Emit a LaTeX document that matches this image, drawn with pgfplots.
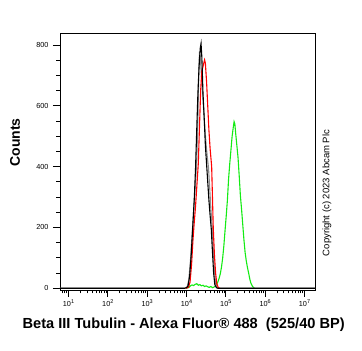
\documentclass[border=0pt]{standalone}
\usepackage{pgfplots}
\pgfplotsset{compat=1.18}
\usepackage{fontspec}
\setmainfont{Liberation Sans}
\definecolor{flgreen}{RGB}{20,235,20}
\definecolor{flgray}{RGB}{140,140,140}
\newcommand{\dec}[1]{10\raisebox{0.75ex}{\fontsize{5.5}{5.5}\selectfont #1}}
\begin{document}
\begin{tikzpicture}
\useasboundingbox (-60pt,-61pt) rectangle (302pt,290pt);
\begin{axis}[
  at={(0,0)}, anchor=south west,
  scale only axis, width=255pt, height=256.7pt,
  xmin=0.784, xmax=7.267, ymin=-5.6, ymax=838.5,
  axis line style={line width=0.9pt},
  tick align=outside,
  xtick pos=bottom, ytick pos=left,
  xtick={1,2,3,4,5,6,7},
  xticklabels={\dec{1},\dec{2},\dec{3},\dec{4},\dec{5},\dec{6},\dec{7}},
  minor xtick={0.845,0.903,0.954,
    1.301,1.477,1.602,1.699,1.778,1.845,1.903,1.954,
    2.301,2.477,2.602,2.699,2.778,2.845,2.903,2.954,
    3.301,3.477,3.602,3.699,3.778,3.845,3.903,3.954,
    4.301,4.477,4.602,4.699,4.778,4.845,4.903,4.954,
    5.301,5.477,5.602,5.699,5.778,5.845,5.903,5.954,
    6.301,6.477,6.602,6.699,6.778,6.845,6.903,6.954},
  ytick={0,200,400,600,800},
  minor ytick={50,100,150,250,300,350,450,500,550,650,700,750},
  major tick length=7pt, minor tick length=3.5pt,
  every tick/.style={line width=0.9pt, black},
  /pgf/number format/assume math mode=true,
  ticklabel style={font=\fontsize{7.3}{8}\selectfont},
  yticklabel style={xshift=-1pt},
  xticklabel style={yshift=1pt},
  ylabel={Counts},
  ylabel style={at={(axis description cs:-0.176,0.575)}, anchor=center, rotate=0, font=\fontsize{14}{15}\selectfont\bfseries},
  xlabel={Beta III Tubulin - Alexa Fluor® 488\ \ (525/40 BP)},
  xlabel style={at={(axis description cs:0.485,-0.134)}, anchor=center, font=\fontsize{14.6}{16}\selectfont\bfseries},
  clip=true,
]
\addplot[flgreen, line width=1.1pt] coordinates {
(4.00,0) (4.06,3) (4.10,8) (4.14,11) (4.18,9) (4.22,13) (4.26,15) (4.30,10) (4.34,12) (4.38,8) (4.42,10) (4.46,6) (4.50,8) (4.54,5) (4.58,3) (4.62,6) (4.66,2) (4.70,4) (4.74,8) (4.77,13) (4.80,22) (4.83,33) (4.86,48) (4.89,70) (4.92,100) (4.95,140) (4.98,190) (5.01,238) (5.04,290) (5.07,360) (5.10,410) (5.13,455) (5.16,500) (5.19,530) (5.21,548) (5.23,540) (5.25,510) (5.28,470) (5.31,430) (5.34,370) (5.37,305) (5.40,260) (5.43,210) (5.46,160) (5.49,118) (5.52,90) (5.55,68) (5.58,50) (5.61,30) (5.64,16) (5.67,8) (5.70,3) (5.73,0)};
\addplot[flgray, line width=1.1pt] coordinates {
(0.784,0) (3.95,0) (4.02,5) (4.06,30) (4.10,90) (4.14,170) (4.18,250) (4.22,330) (4.26,420) (4.29,560) (4.31,700) (4.33,778) (4.35,760) (4.38,700) (4.42,620) (4.46,540) (4.50,470) (4.53,430) (4.56,395) (4.59,330) (4.62,260) (4.655,200) (4.68,130) (4.71,60) (4.74,15) (4.78,2) (4.82,0) (7.267,0)};
\addplot[red, line width=1.1pt] coordinates {
(3.98,0) (4.05,3) (4.09,20) (4.13,80) (4.16,150) (4.19,205) (4.23,270) (4.27,350) (4.30,410) (4.33,530) (4.36,650) (4.39,715) (4.41,724) (4.43,735) (4.46,751) (4.48,740) (4.51,680) (4.54,600) (4.57,520) (4.60,460) (4.64,400) (4.66,300) (4.68,200) (4.71,110) (4.74,50) (4.77,15) (4.81,2) (4.85,0)};
\addplot[black, line width=1.1pt] coordinates {
(0.784,0) (3.95,0) (4.00,2) (4.04,8) (4.08,40) (4.12,110) (4.16,205) (4.20,300) (4.23,395) (4.26,520) (4.29,640) (4.32,730) (4.35,790) (4.37,805) (4.39,760) (4.42,640) (4.45,560) (4.48,470) (4.51,410) (4.54,350) (4.57,290) (4.60,240) (4.63,195) (4.66,120) (4.69,50) (4.72,12) (4.76,2) (4.80,0) (7.267,0)};
\end{axis}
\node[rotate=90, font=\fontsize{9.5}{10}\selectfont, anchor=center] at (267pt,97pt) {Copyright (c) 2023 Abcam Plc};
\end{tikzpicture}
\end{document}
